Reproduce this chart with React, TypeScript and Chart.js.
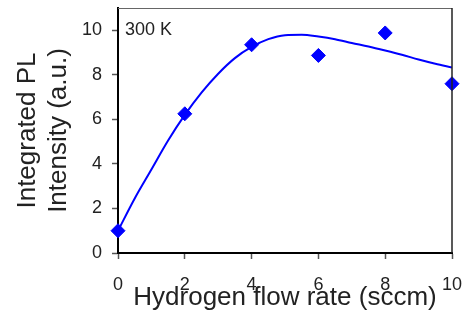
import React, { useEffect, useRef } from "react";
import { Chart, registerables } from "chart.js";

Chart.register(...registerables);

const flowRates = [0, 2, 4, 6, 8, 10];
const intensities = [1.0, 6.25, 9.35, 8.87, 9.88, 7.6];

const fitX = [0, 0.5, 1, 1.5, 2, 2.5, 3, 3.5, 4, 4.5, 5, 5.5, 6, 6.5, 7, 7.5, 8, 8.5, 9, 9.5, 10];
const fitY = [1.0, 2.45, 3.75, 5.05, 6.2, 7.2, 8.05, 8.75, 9.25, 9.6, 9.78, 9.8, 9.72, 9.6, 9.43, 9.27, 9.09, 8.9, 8.69, 8.5, 8.33];

const xTicks = [0, 2, 4, 6, 8, 10];
const yTicks = [0, 2, 4, 6, 8, 10];

const xTitle = "Hydrogen flow rate (sccm)";
const yTitle = ["Integrated PL", "Intensity (a.u.)"];
const annotation = "300 K";

const FONT = "'Liberation Sans', Arial, sans-serif";

function zeroPad(s: any) {
  s.paddingTop = 0;
  s.paddingBottom = 0;
  s.paddingLeft = 0;
  s.paddingRight = 0;
}

export default function App() {
  const ref = useRef<HTMLCanvasElement | null>(null);

  useEffect(() => {
    document.body.style.margin = "0";
    const canvas = ref.current!;
    const framePlugin = {
      id: "frame",
      afterDraw(chart: any) {
        const { ctx, chartArea } = chart;
        ctx.save();
        ctx.strokeStyle = "#666";
        ctx.lineWidth = 1;
        ctx.beginPath();
        ctx.moveTo(chartArea.left, chartArea.top + 0.5);
        ctx.lineTo(chartArea.right, chartArea.top + 0.5);
        ctx.stroke();
        ctx.strokeStyle = "#222";
        ctx.lineWidth = 1.5;
        ctx.beginPath();
        ctx.moveTo(chartArea.right, chartArea.top);
        ctx.lineTo(chartArea.right, chartArea.bottom);
        ctx.stroke();
        ctx.fillStyle = "#222";
        ctx.font = `18px ${FONT}`;
        ctx.textBaseline = "alphabetic";
        ctx.textAlign = "left";
        ctx.fillText(annotation, chartArea.left + 7, chartArea.top + 27);
        ctx.restore();
      },
    };

    const chart = new Chart(canvas, {
      type: "scatter",
      data: {
        datasets: [
          {
            type: "line",
            data: fitX.map((x, i) => ({ x, y: fitY[i] })),
            borderColor: "#0000ff",
            borderWidth: 2,
            pointRadius: 0,
            tension: 0.4,
            cubicInterpolationMode: "monotone",
            fill: false,
            order: 2,
          } as any,
          {
            type: "scatter",
            data: flowRates.map((x, i) => ({ x, y: intensities[i] })),
            backgroundColor: "#0000ff",
            borderColor: "#0000ff",
            borderWidth: 1,
            pointStyle: "rectRot",
            pointRadius: 7,
            clip: false,
            order: 1,
          } as any,
        ],
      },
      options: {
        animation: false,
        responsive: false,
        maintainAspectRatio: false,
        layout: { padding: { left: 0, right: 17, top: 7, bottom: 0 } },
        plugins: { legend: { display: false }, tooltip: { enabled: false } },
        scales: {
          x: {
            type: "linear",
            min: 0,
            max: 10,
            afterBuildTicks: (s: any) => {
              s.ticks = xTicks.map((v) => ({ value: v }));
            },
            afterFit: (s: any) => {
              s.height = 72;
              zeroPad(s);
            },
            ticks: {
              color: "#222",
              font: { family: FONT, size: 18 },
              padding: 15,
              maxRotation: 0,
            },
            grid: {
              drawOnChartArea: false,
              drawTicks: true,
              tickLength: 6,
              tickColor: "#555",
              tickWidth: 1.5,
            },
            border: { display: true, color: "#000", width: 2 },
            title: {
              display: true,
              text: xTitle,
              color: "#222",
              font: { family: FONT, size: 26 },
              padding: { top: 0, bottom: 12 },
            },
          },
          y: {
            type: "linear",
            min: 0,
            max: 11,
            afterBuildTicks: (s: any) => {
              s.ticks = yTicks.map((v) => ({ value: v }));
            },
            afterFit: (s: any) => {
              s.width = 118;
              zeroPad(s);
            },
            ticks: {
              color: "#222",
              font: { family: FONT, size: 18 },
              padding: 10,
            },
            grid: {
              drawOnChartArea: false,
              drawTicks: true,
              tickLength: 6,
              tickColor: "#555",
              tickWidth: 1.5,
            },
            border: { display: true, color: "#000", width: 2 },
            title: {
              display: true,
              text: yTitle,
              color: "#222",
              font: { family: FONT, size: 26 },
              padding: { top: 12, bottom: 0 },
            },
          },
        },
      },
      plugins: [framePlugin],
    } as any);
    return () => chart.destroy();
  }, []);

  return (
    <div style={{ width: 469, height: 325 }}>
      <canvas ref={ref} width={469} height={325} style={{ width: 469, height: 325, display: "block" }} />
    </div>
  );
}
